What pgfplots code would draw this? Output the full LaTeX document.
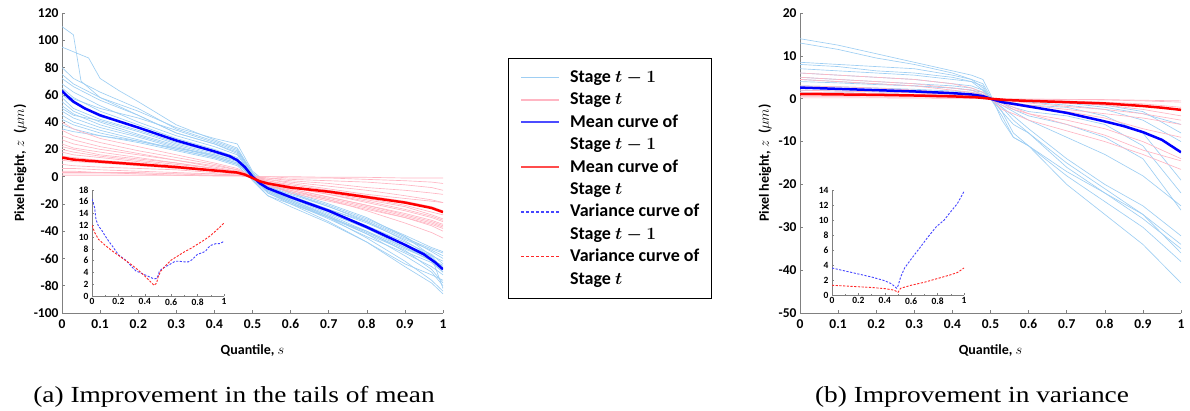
\documentclass[border=0pt]{standalone}
\usepackage{fontspec}
\setmainfont{Carlito}
\newfontfamily\capfont{Liberation Serif}
\usepackage{pgfplots}
\pgfplotsset{compat=1.18}
\definecolor{lblue}{RGB}{158,206,243}
\definecolor{lpink}{RGB}{255,182,195}
\definecolor{dblue}{RGB}{70,70,255}
\definecolor{dred}{RGB}{255,40,40}
\pgfplotsset{
  lb/.style={color=lblue, line width=0.65pt, forget plot},
  lp/.style={color=lpink, line width=0.65pt, forget plot},
  mb/.style={color=blue, line width=2.5pt, forget plot},
  mr/.style={color=red, line width=2.5pt, forget plot},
  vb/.style={color=dblue, line width=0.9pt, dash pattern=on 2.2pt off 1.5pt, forget plot},
  vr/.style={color=dred, line width=0.9pt, dash pattern=on 2.2pt off 1.5pt, forget plot},
  mainax/.style={scale only axis, width=381pt, height=300pt,
    axis lines=left, axis line style={-, draw=gray, line width=0.8pt},
    tick style={draw=gray, line width=0.6pt}, tick align=inside, major tick length=3pt,
    xmin=0, xmax=1,
    xtick={0,0.1,0.2,0.3,0.4,0.5,0.6,0.7,0.8,0.9,1},
    xticklabels={0,0.1,0.2,0.3,0.4,0.5,0.6,0.7,0.8,0.9,1},
    ticklabel style={font=\bfseries\fontsize{13.5}{15}\selectfont},
    xticklabel style={yshift=-3pt},
    /pgf/number format/assume math mode=true,
    label style={font=\bfseries\fontsize{14}{17}\selectfont},
    xlabel={Quantile, $s$},
    xlabel style={yshift=-9pt},
    ylabel={Pixel height, $z$ \ ($\mu m$)}},
  insetax/.style={scale only axis, width=132pt,
    axis lines=left, axis line style={-, draw=gray, line width=0.6pt},
    tick style={draw=gray, line width=0.5pt}, tick align=inside, major tick length=2pt, minor tick length=1.5pt,
    xmin=0, xmax=1, ymin=0,
    xtick={0,0.2,0.4,0.6,0.8,1}, xticklabels={0,0.2,0.4,0.6,0.8,1},
    minor xtick={0.1,0.3,0.5,0.7,0.9},
    ticklabel style={font=\bfseries\fontsize{9.5}{10}\selectfont},
    /pgf/number format/assume math mode=true,
    xticklabel style={yshift=1pt}}
}
\begin{document}
\begin{tikzpicture}
\path[use as bounding box] (0pt,0pt) rectangle (1190pt,410pt);

% ================= LEFT PANEL =================
\begin{axis}[mainax, at={(62pt,97pt)}, anchor=south west,
  ymin=-100, ymax=120, ytick={-100,-80,-60,-40,-20,0,20,40,60,80,100,120},
  legend style={at={(1.1706,0.85)}, anchor=north west, draw=black, line width=0.6pt,
    font=\bfseries\boldmath\fontsize{18}{22}\selectfont,
    inner xsep=12pt, inner ysep=8pt, column sep=10pt, row sep=0pt,
    nodes={inner xsep=0pt, inner ysep=1.2pt, text height=15pt, text depth=5pt},
    cells={anchor=west}},
  legend image code/.code={\draw[#1] (0pt,0pt) -- (38pt,0pt);}]
% Stage t-1 individual curves
\addplot[lb] coordinates {(0,110)(0.03,104)(0.05,70)(0.1,58)(0.2,45)(0.3,32)(0.4,24)(0.46,18)(0.5,2)(0.54,-10)(0.6,-18)(0.7,-30)(0.8,-45)(0.9,-62)(0.97,-76)(1,-84)};
\addplot[lb] coordinates {(0,95)(0.07,87)(0.1,72)(0.15,63)(0.2,55)(0.3,38)(0.4,27)(0.46,21)(0.5,3)(0.54,-12)(0.6,-20)(0.7,-33)(0.8,-48)(0.9,-66)(0.97,-78)(1,-86)};
\addplot[lb] coordinates {(0,80)(0.03,72)(0.1,62)(0.2,50)(0.3,35)(0.4,26)(0.46,20)(0.5,2)(0.54,-8)(0.6,-16)(0.7,-26)(0.8,-38)(0.9,-52)(0.97,-60)(1,-66)};
\addplot[lb] coordinates {(0,72)(0.03,66)(0.1,56)(0.2,45)(0.3,32)(0.4,24)(0.46,17)(0.5,1)(0.54,-11)(0.6,-19)(0.7,-31)(0.8,-44)(0.9,-56)(0.97,-66)(1,-72)};
\addplot[lb] coordinates {(0,68)(0.03,62)(0.1,52)(0.2,40)(0.3,30)(0.4,22)(0.46,16)(0.5,0)(0.54,-9)(0.6,-17)(0.7,-28)(0.8,-40)(0.9,-55)(0.97,-63)(1,-70)};
\addplot[lb] coordinates {(0,65)(0.03,58)(0.1,48)(0.2,38)(0.3,28)(0.4,20)(0.46,14)(0.5,-1)(0.54,-12)(0.6,-19)(0.7,-30)(0.8,-42)(0.9,-54)(0.97,-68)(1,-78)};
\addplot[lb] coordinates {(0,60)(0.03,54)(0.1,44)(0.2,36)(0.3,27)(0.4,19)(0.46,13)(0.5,0)(0.54,-10)(0.6,-16)(0.7,-27)(0.8,-38)(0.9,-50)(0.97,-58)(1,-62)};
\addplot[lb] coordinates {(0,58)(0.03,50)(0.1,42)(0.2,34)(0.3,25)(0.4,18)(0.46,12)(0.5,-2)(0.54,-14)(0.6,-22)(0.7,-34)(0.8,-48)(0.9,-64)(0.97,-72)(1,-76)};
\addplot[lb] coordinates {(0,55)(0.03,48)(0.1,40)(0.2,31)(0.3,23)(0.4,16)(0.46,11)(0.5,-1)(0.54,-8)(0.6,-14)(0.7,-24)(0.8,-34)(0.9,-46)(0.97,-54)(1,-58)};
\addplot[lb] coordinates {(0,52)(0.03,46)(0.1,38)(0.2,30)(0.3,22)(0.4,15)(0.46,10)(0.5,0)(0.54,-9)(0.6,-15)(0.7,-25)(0.8,-36)(0.9,-48)(0.97,-57)(1,-64)};
\addplot[lb] coordinates {(0,48)(0.03,43)(0.1,36)(0.2,29)(0.3,21)(0.4,15)(0.46,10)(0.5,-1)(0.54,-7)(0.6,-13)(0.7,-22)(0.8,-33)(0.9,-45)(0.97,-53)(1,-56)};
\addplot[lb] coordinates {(0,45)(0.03,40)(0.1,34)(0.2,27)(0.3,20)(0.4,14)(0.46,9)(0.5,1)(0.54,-6)(0.6,-12)(0.7,-22)(0.8,-32)(0.9,-44)(0.97,-55)(1,-60)};
\addplot[lb] coordinates {(0,42)(0.03,38)(0.1,32)(0.2,26)(0.3,20)(0.4,14)(0.46,9)(0.5,0)(0.54,-10)(0.6,-17)(0.7,-29)(0.8,-41)(0.9,-53)(0.97,-61)(1,-65)};
\addplot[lb] coordinates {(0,38)(0.03,35)(0.1,30)(0.2,25)(0.3,19)(0.4,13)(0.46,8)(0.5,-2)(0.54,-6)(0.6,-11)(0.7,-20)(0.8,-30)(0.9,-44)(0.97,-58)(1,-68)};
\addplot[lb] coordinates {(0,35)(0.03,33)(0.1,30)(0.2,26)(0.3,21)(0.4,16)(0.46,12)(0.5,-3)(0.54,-14)(0.6,-20)(0.7,-30)(0.8,-40)(0.9,-52)(0.97,-62)(1,-70)};
\addplot[lb] coordinates {(0,62)(0.03,57)(0.1,50)(0.2,43)(0.3,34)(0.4,25)(0.46,19)(0.5,3)(0.54,-7)(0.6,-14)(0.7,-24)(0.8,-33)(0.9,-47)(0.97,-59)(1,-82)};
\addplot[lb] coordinates {(0,75)(0.03,68)(0.1,58)(0.2,48)(0.3,36)(0.4,28)(0.46,24)(0.5,4)(0.54,-5)(0.6,-12)(0.7,-21)(0.8,-31)(0.9,-43)(0.97,-52)(1,-55)};
\addplot[lb] coordinates {(0,50)(0.03,45)(0.1,41)(0.2,33)(0.3,24)(0.4,17)(0.46,13)(0.5,-2)(0.54,-11)(0.6,-18)(0.7,-29)(0.8,-42)(0.9,-58)(0.97,-70)(1,-80)};
% Stage t individual curves
\addplot[lp] coordinates {(0,40)(0.03,35)(0.1,28)(0.2,22)(0.3,16)(0.4,10)(0.46,6)(0.5,0)(0.54,-6)(0.6,-12)(0.7,-18)(0.8,-24)(0.9,-30)(0.97,-35)(1,-38)};
\addplot[lp] coordinates {(0,34)(0.03,30)(0.1,25)(0.2,19)(0.3,14)(0.4,9)(0.46,5)(0.5,-1)(0.54,-7)(0.6,-11)(0.7,-17)(0.8,-23)(0.9,-30)(0.97,-36)(1,-40)};
\addplot[lp] coordinates {(0,30)(0.03,27)(0.1,22)(0.2,17)(0.3,12)(0.4,8)(0.46,5)(0.5,0)(0.54,-5)(0.6,-9)(0.7,-15)(0.8,-21)(0.9,-27)(0.97,-32)(1,-35)};
\addplot[lp] coordinates {(0,27)(0.03,24)(0.1,20)(0.2,16)(0.3,12)(0.4,7)(0.46,4)(0.5,-1)(0.54,-6)(0.6,-10)(0.7,-16)(0.8,-22)(0.9,-29)(0.97,-34)(1,-37)};
\addplot[lp] coordinates {(0,24)(0.03,21)(0.1,18)(0.2,14)(0.3,10)(0.4,6)(0.46,4)(0.5,0)(0.54,-4)(0.6,-8)(0.7,-13)(0.8,-18)(0.9,-24)(0.97,-29)(1,-32)};
\addplot[lp] coordinates {(0,22)(0.03,20)(0.1,16)(0.2,13)(0.3,10)(0.4,6)(0.46,3)(0.5,-1)(0.54,-5)(0.6,-9)(0.7,-15)(0.8,-21)(0.9,-28)(0.97,-33)(1,-36)};
\addplot[lp] coordinates {(0,20)(0.03,18)(0.1,15)(0.2,12)(0.3,9)(0.4,6)(0.46,3)(0.5,0)(0.54,-3)(0.6,-7)(0.7,-11)(0.8,-16)(0.9,-21)(0.97,-26)(1,-28)};
\addplot[lp] coordinates {(0,18)(0.03,16)(0.1,14)(0.2,11)(0.3,8)(0.4,5)(0.46,3)(0.5,-1)(0.54,-5)(0.6,-10)(0.7,-17)(0.8,-25)(0.9,-34)(0.97,-41)(1,-45)};
\addplot[lp] coordinates {(0,15)(0.03,14)(0.1,12)(0.2,10)(0.3,7)(0.4,5)(0.46,3)(0.5,0)(0.54,-3)(0.6,-6)(0.7,-10)(0.8,-14)(0.9,-18)(0.97,-22)(1,-25)};
\addplot[lp] coordinates {(0,12)(0.03,11)(0.1,10)(0.2,8)(0.3,6)(0.4,4)(0.46,2)(0.5,-1)(0.54,-4)(0.6,-8)(0.7,-13)(0.8,-19)(0.9,-25)(0.97,-30)(1,-33)};
\addplot[lp] coordinates {(0,9)(0.03,8)(0.1,7)(0.2,6)(0.3,5)(0.4,3)(0.46,2)(0.5,0)(0.54,-2)(0.6,-5)(0.7,-9)(0.8,-13)(0.9,-16)(0.97,-18)(1,-19)};
\addplot[lp] coordinates {(0,6)(0.03,6)(0.1,5)(0.2,4)(0.3,3)(0.4,2)(0.46,1)(0.5,0)(0.54,-2)(0.6,-4)(0.7,-7)(0.8,-10)(0.9,-14)(0.97,-17)(1,-19)};
\addplot[lp] coordinates {(0,4)(0.03,4)(0.1,3)(0.2,3)(0.3,2)(0.4,2)(0.46,1)(0.5,0)(0.54,-1)(0.6,-2)(0.7,-3)(0.8,-4)(0.9,-6)(0.97,-8)(1,-10)};
\addplot[lp] coordinates {(0,2)(0.03,2)(0.1,2)(0.2,2)(0.3,1)(0.4,1)(0.46,1)(0.5,0)(0.54,0)(0.6,-1)(0.7,-1)(0.8,-2)(0.9,-3)(0.97,-4)(1,-5)};
\addplot[lp] coordinates {(0,1)(0.03,1)(0.1,1)(0.2,1)(0.3,1)(0.4,0.5)(0.46,0.5)(0.5,0)(0.54,0)(0.6,0)(0.7,-0.5)(0.8,-0.5)(0.9,-1)(0.97,-1)(1,-1)};
\addplot[lp] coordinates {(0,14)(0.03,13)(0.1,11)(0.2,9)(0.3,7)(0.4,5)(0.46,3)(0.5,0)(0.54,-4)(0.6,-7)(0.7,-12)(0.8,-17)(0.9,-22)(0.97,-28)(1,-31)};
\addplot[lp] coordinates {(0,3)(0.03,3)(0.1,3)(0.2,2)(0.3,2)(0.4,1)(0.46,1)(0.5,0)(0.54,-1)(0.6,-3)(0.7,-5)(0.8,-8)(0.9,-10)(0.97,-12)(1,-13)};
% mean curves
\addplot[mb] coordinates {(0,63)(0.01,60)(0.03,55)(0.06,50)(0.1,45)(0.2,36)(0.3,26.5)(0.4,18.5)(0.44,15)(0.46,12)(0.48,7)(0.5,0)(0.52,-5)(0.54,-8.5)(0.6,-15)(0.7,-25)(0.8,-37)(0.9,-50)(0.95,-57)(0.98,-63)(1,-68)};
\addplot[mr] coordinates {(0,14)(0.03,12.5)(0.1,11)(0.2,9)(0.3,7)(0.4,4.5)(0.46,3)(0.48,1.5)(0.5,-1)(0.52,-3.5)(0.54,-5)(0.6,-8)(0.7,-11)(0.8,-15)(0.9,-19)(0.97,-23)(1,-26)};
% legend
\addlegendimage{lblue, line width=1.5pt}\addlegendentry{Stage $t-1$}
\addlegendimage{lpink, line width=1.5pt}\addlegendentry{Stage $t$}
\addlegendimage{blue!70!white, line width=1.8pt}\addlegendentry{Mean curve of}
\addlegendimage{empty legend}\addlegendentry{Stage $t-1$}
\addlegendimage{red!70!white, line width=1.8pt}\addlegendentry{Mean curve of}
\addlegendimage{empty legend}\addlegendentry{Stage $t$}
\addlegendimage{color=dblue, line width=1.3pt, dash pattern=on 3pt off 2pt}\addlegendentry{Variance curve of}
\addlegendimage{empty legend}\addlegendentry{Stage $t-1$}
\addlegendimage{color=dred, line width=1.3pt, dash pattern=on 3pt off 2pt}\addlegendentry{Variance curve of}
\addlegendimage{empty legend}\addlegendentry{Stage $t$}
\end{axis}

% left inset
\begin{axis}[insetax, at={(92pt,114pt)}, anchor=south west, height=106pt,
  ymax=18, ytick={0,2,4,6,8,10,12,14,16,18}]
\addplot[vb] coordinates {(0,16.5)(0.02,15)(0.03,13)(0.05,11.8)(0.07,11.3)(0.1,10.2)(0.13,9.2)(0.16,8.3)(0.2,7)(0.23,6.5)(0.26,6)(0.3,5)(0.33,4.3)(0.36,4)(0.4,3.6)(0.44,3.2)(0.47,2.9)(0.49,3)(0.5,3.4)(0.51,4.2)(0.53,4.6)(0.56,5)(0.6,5.5)(0.63,5.9)(0.66,5.9)(0.7,5.8)(0.73,5.8)(0.76,6.2)(0.8,7.1)(0.83,7.3)(0.86,7.6)(0.88,8.2)(0.9,8.6)(0.94,8.9)(0.97,8.9)(1,9.3)};
\addplot[vr] coordinates {(0,12)(0.02,10.8)(0.05,9.6)(0.1,8.6)(0.15,7.7)(0.2,6.9)(0.25,6.1)(0.3,5.3)(0.35,4.4)(0.4,3.4)(0.44,2.5)(0.47,1.8)(0.49,2.2)(0.5,3.2)(0.52,4.2)(0.55,5)(0.6,6.1)(0.65,6.8)(0.7,7.5)(0.75,8.1)(0.8,8.8)(0.85,9.5)(0.9,10.3)(0.95,11.3)(1,12.4)};
\end{axis}

% ================= RIGHT PANEL =================
\begin{axis}[mainax, at={(800pt,97pt)}, anchor=south west,
  ymin=-50, ymax=20, ytick={-50,-40,-30,-20,-10,0,10,20}]
\addplot[lb] coordinates {(0,14)(0.1,12.5)(0.2,10.5)(0.3,8.5)(0.4,6.5)(0.45,5.5)(0.48,4.5)(0.5,1)(0.53,-5)(0.56,-9)(0.6,-11)(0.7,-20)(0.8,-27)(0.9,-34)(1,-43)};
\addplot[lb] coordinates {(0,13)(0.1,11.5)(0.2,9.5)(0.3,8)(0.4,6)(0.45,4.5)(0.48,2.5)(0.5,0)(0.53,-4)(0.56,-9)(0.6,-11)(0.7,-18)(0.8,-24)(0.9,-30)(1,-38)};
\addplot[lb] coordinates {(0,8.5)(0.1,8)(0.2,7.5)(0.3,7)(0.4,5.5)(0.45,4.5)(0.48,3.5)(0.5,0.5)(0.53,-3)(0.56,-8)(0.6,-11)(0.7,-17)(0.8,-22)(0.9,-28)(1,-35)};
\addplot[lb] coordinates {(0,8)(0.1,7.5)(0.2,6.5)(0.3,6)(0.4,5)(0.45,4)(0.48,2)(0.5,0)(0.53,-2)(0.56,-5)(0.6,-8)(0.7,-16)(0.8,-22)(0.9,-27)(1,-36)};
\addplot[lb] coordinates {(0,6)(0.1,5.5)(0.2,5)(0.3,4.5)(0.4,3.5)(0.45,3)(0.48,2)(0.5,0)(0.53,-2)(0.56,-4)(0.6,-7)(0.7,-14)(0.8,-20)(0.9,-25)(1,-32)};
\addplot[lb] coordinates {(0,5)(0.1,4.5)(0.2,4)(0.3,3.5)(0.4,3)(0.45,2.5)(0.48,1.5)(0.5,0)(0.53,-1.5)(0.56,-3)(0.6,-5)(0.7,-9)(0.8,-13)(0.9,-18)(1,-25)};
\addplot[lb] coordinates {(0,4.5)(0.1,4)(0.2,3.5)(0.3,3)(0.4,2.5)(0.45,2)(0.48,1)(0.5,0)(0.53,-1)(0.56,-2)(0.6,-3)(0.7,-4)(0.8,-6)(0.9,-11)(1,-22)};
\addplot[lb] coordinates {(0,3)(0.1,2.8)(0.2,2.5)(0.3,2.2)(0.4,1.8)(0.45,1.5)(0.48,1)(0.5,0)(0.53,-0.5)(0.56,-1)(0.6,-1.5)(0.7,-2)(0.8,-4)(0.9,-8)(1,-19)};
\addplot[lb] coordinates {(0,2)(0.1,1.8)(0.2,1.6)(0.3,1.4)(0.4,1.2)(0.45,1)(0.48,0.6)(0.5,0)(0.53,-0.3)(0.56,-0.5)(0.6,-0.8)(0.7,-1.5)(0.8,-2.5)(0.9,-5)(1,-10)};
\addplot[lb] coordinates {(0,1.5)(0.1,1.4)(0.2,1.2)(0.3,1)(0.4,0.8)(0.45,0.6)(0.48,0.4)(0.5,0)(0.53,-0.2)(0.56,-0.4)(0.6,-0.6)(0.7,-1)(0.8,-2)(0.9,-3.5)(1,-6)};
\addplot[lb] coordinates {(0,7)(0.1,6.5)(0.2,6)(0.3,5.5)(0.4,4.5)(0.45,4)(0.48,3)(0.5,0)(0.53,-3)(0.56,-6)(0.6,-8)(0.7,-15)(0.8,-21)(0.9,-27)(1,-34)};
\addplot[lb] coordinates {(0,1)(0.1,1)(0.2,0.9)(0.3,0.8)(0.4,0.6)(0.45,0.5)(0.48,0.3)(0.5,0)(0.53,-0.2)(0.56,-0.3)(0.6,-0.5)(0.7,-0.8)(0.8,-1.5)(0.9,-3)(1,-8)};
\addplot[lb] coordinates {(0,4)(0.1,3.7)(0.2,3.3)(0.3,3)(0.4,2.5)(0.45,2)(0.48,1.5)(0.5,0)(0.53,-1)(0.56,-2.5)(0.6,-4)(0.7,-6)(0.8,-9)(0.9,-14)(1,-26)};
% Stage t
\addplot[lp] coordinates {(0,6)(0.1,5.5)(0.2,5)(0.3,4.5)(0.4,3.5)(0.45,2.5)(0.48,1.5)(0.5,0)(0.53,-2.5)(0.56,-3.5)(0.6,-5)(0.7,-7.5)(0.8,-10)(0.9,-13)(1,-16.5)};
\addplot[lp] coordinates {(0,5)(0.1,4.5)(0.2,4)(0.3,3.5)(0.4,2.5)(0.45,2)(0.48,1)(0.5,0)(0.53,-1.5)(0.56,-2.5)(0.6,-3.5)(0.7,-5)(0.8,-7)(0.9,-10)(1,-14)};
\addplot[lp] coordinates {(0,4.5)(0.1,4)(0.2,3.5)(0.3,3)(0.4,2)(0.45,1.5)(0.48,0.8)(0.5,0)(0.53,-0.8)(0.56,-1.5)(0.6,-2)(0.7,-3)(0.8,-4.5)(0.9,-7)(1,-9)};
\addplot[lp] coordinates {(0,3)(0.1,2.8)(0.2,2.5)(0.3,2)(0.4,1.5)(0.45,1)(0.48,0.5)(0.5,0)(0.53,-0.5)(0.56,-1)(0.6,-1.5)(0.7,-2.5)(0.8,-3.5)(0.9,-4.5)(1,-6)};
\addplot[lp] coordinates {(0,2)(0.1,1.8)(0.2,1.6)(0.3,1.4)(0.4,1)(0.45,0.7)(0.48,0.4)(0.5,0)(0.53,-0.3)(0.56,-0.6)(0.6,-1)(0.7,-1.8)(0.8,-2.5)(0.9,-3.5)(1,-5)};
\addplot[lp] coordinates {(0,1.5)(0.1,1.4)(0.2,1.2)(0.3,1)(0.4,0.8)(0.45,0.6)(0.48,0.3)(0.5,0)(0.53,-0.2)(0.56,-0.4)(0.6,-0.6)(0.7,-1)(0.8,-1.5)(0.9,-2.5)(1,-4)};
\addplot[lp] coordinates {(0,1)(0.1,0.9)(0.2,0.8)(0.3,0.7)(0.4,0.5)(0.45,0.4)(0.48,0.2)(0.5,0)(0.53,-0.1)(0.56,-0.2)(0.6,-0.3)(0.7,-0.5)(0.8,-0.8)(0.9,-1.2)(1,-2)};
\addplot[lp] coordinates {(0,0.5)(0.1,0.5)(0.2,0.4)(0.3,0.4)(0.4,0.3)(0.45,0.2)(0.48,0.1)(0.5,0)(0.53,0)(0.56,-0.1)(0.6,-0.1)(0.7,-0.2)(0.8,-0.3)(0.9,-0.5)(1,-0.8)};
\addplot[lp] coordinates {(0,2.5)(0.1,2.2)(0.2,2)(0.3,1.8)(0.4,1.4)(0.45,1)(0.48,0.5)(0.5,0)(0.53,-1)(0.56,-2)(0.6,-3.5)(0.7,-6)(0.8,-8.5)(0.9,-12)(1,-14.5)};
\addplot[lp] coordinates {(0,0.2)(0.2,0.2)(0.4,0.1)(0.5,0)(0.6,-0.1)(0.8,-0.2)(1,-0.5)};
% mean curves
\addplot[mb] coordinates {(0,2.6)(0.1,2.3)(0.2,2.0)(0.3,1.7)(0.4,1.3)(0.45,1)(0.48,0.6)(0.5,0)(0.53,-0.8)(0.56,-1.2)(0.6,-1.8)(0.7,-3.3)(0.8,-5.3)(0.85,-6.4)(0.9,-7.8)(0.95,-9.6)(1,-12.5)};
\addplot[mr] coordinates {(0,1.1)(0.1,1)(0.2,0.9)(0.3,0.75)(0.4,0.55)(0.46,0.35)(0.5,0)(0.54,-0.3)(0.6,-0.5)(0.7,-0.8)(0.8,-1.1)(0.9,-1.7)(0.95,-2.1)(1,-2.6)};
\end{axis}

% right inset
\begin{axis}[insetax, at={(832pt,115pt)}, anchor=south west, height=105pt,
  ymax=14, ytick={0,2,4,6,8,10,12,14}]
\addplot[vb] coordinates {(0,3.6)(0.1,3.2)(0.2,2.8)(0.3,2.4)(0.4,1.9)(0.45,1.5)(0.49,0.9)(0.5,1.2)(0.52,2.4)(0.55,3.6)(0.6,4.8)(0.67,6.4)(0.73,7.8)(0.79,9.1)(0.85,10)(0.89,10.9)(0.95,12.2)(1,13.8)};
\addplot[vr] coordinates {(0,1.3)(0.1,1.2)(0.2,1.1)(0.3,1)(0.4,0.85)(0.47,0.65)(0.5,0.35)(0.52,0.9)(0.6,1.3)(0.7,1.7)(0.8,2.2)(0.9,2.7)(0.95,3)(1,3.6)};
\end{axis}

% captions
\node[anchor=base, xscale=1.19, font=\capfont\fontsize{23}{27}\selectfont] at (234pt,8pt) {(a) Improvement in the tails of mean};
\node[anchor=base, xscale=1.19, font=\capfont\fontsize{23}{27}\selectfont] at (972pt,8pt) {(b) Improvement in variance};
\end{tikzpicture}
\end{document}
